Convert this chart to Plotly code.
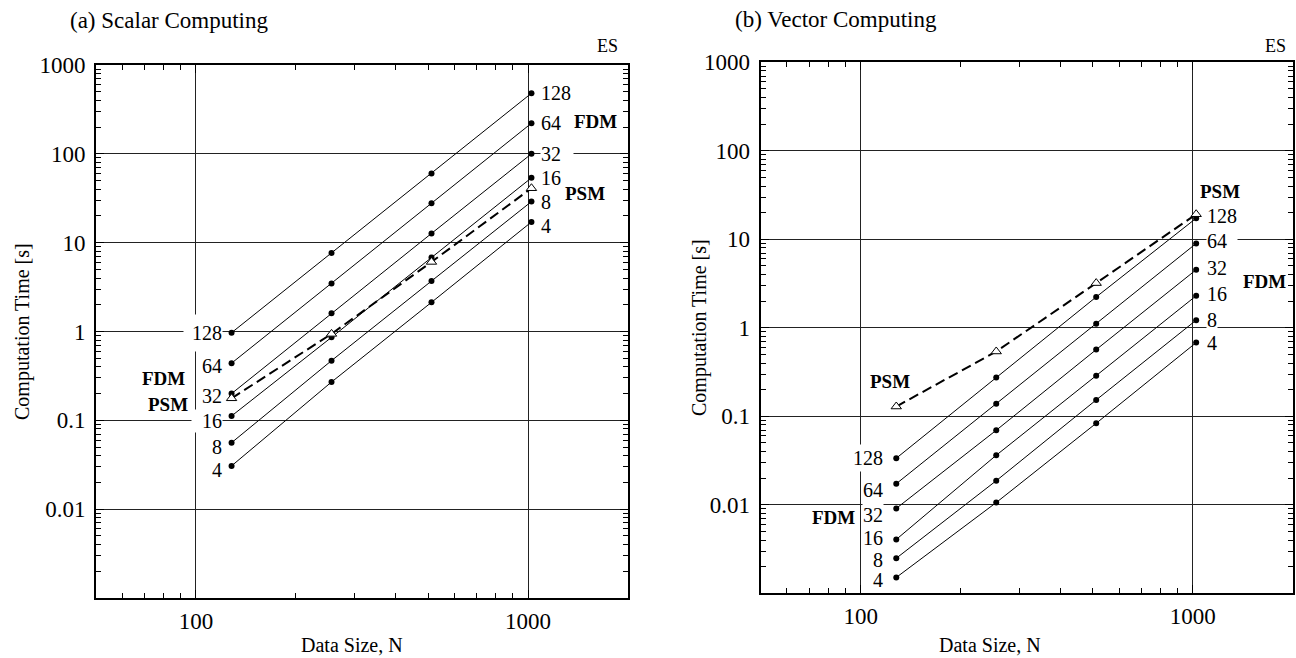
import math
import plotly.graph_objects as go

SERIF = "Liberation Serif"

# ---------------- data ----------------
data_size = [128, 256, 512, 1024]
procs = [128, 64, 32, 16, 8, 4]

# (a) Scalar computing, FDM, one list per processor count
scalar_fdm_128 = [0.97, 7.66, 60.0, 481.0]
scalar_fdm_64 = [0.44, 3.47, 27.7, 221.0]
scalar_fdm_32 = [0.20, 1.61, 12.7, 100.0]
scalar_fdm_16 = [0.112, 0.86, 6.8, 53.7]
scalar_fdm_8 = [0.056, 0.47, 3.7, 29.0]
scalar_fdm_4 = [0.0307, 0.27, 2.13, 17.1]
scalar_psm = [0.177, 0.94, 6.07, 41.0]

# (b) Vector computing
vector_fdm_128 = [0.0336, 0.275, 2.23, 17.3]
vector_fdm_64 = [0.0173, 0.139, 1.11, 8.97]
vector_fdm_32 = [0.0091, 0.0695, 0.567, 4.53]
vector_fdm_16 = [0.00406, 0.0363, 0.288, 2.3]
vector_fdm_8 = [0.00249, 0.0187, 0.153, 1.22]
vector_fdm_4 = [0.00151, 0.0106, 0.0834, 0.68]
vector_psm = [0.129, 0.54, 3.2, 19.2]

scalar_fdm = [scalar_fdm_128, scalar_fdm_64, scalar_fdm_32,
              scalar_fdm_16, scalar_fdm_8, scalar_fdm_4]
vector_fdm = [vector_fdm_128, vector_fdm_64, vector_fdm_32,
              vector_fdm_16, vector_fdm_8, vector_fdm_4]

panel_titles = ["(a) Scalar Computing", "(b) Vector Computing"]
x_title = "Data Size, N"
y_title = "Computation Time [s]"

# ---------------- label styling (pixel offsets / white box sizes) ----------------
# (yshift, box width, box height)
a_left_style = [(0, 38, 36), (-3, None, None), (-2, None, None), (-5, 30, None), (-4, None, None), (-4, None, None)]
a_right_style = [(0, None, None), (0, None, None), (0, 32, None), (0, None, None), (0, None, None), (-4, None, None)]
b_left_style = [(0, 38, 26), (-6, None, None), (-7, None, None), (1, None, None), (-2, None, None), (-3, None, None)]
b_right_style = [(2, None, 20), (2, 30, None), (2, None, None), (2, None, None), (0, None, None), (0, None, None)]

fig = go.Figure()


def add_panel(fdm, psm, xa, ya):
    for vals in fdm:
        fig.add_trace(go.Scatter(
            x=data_size, y=vals, mode="lines+markers", xaxis=xa, yaxis=ya,
            line=dict(color="black", width=1),
            marker=dict(size=6, color="black"), showlegend=False,
            hoverinfo="x+y"))
    fig.add_trace(go.Scatter(
        x=data_size, y=psm, mode="lines+markers", xaxis=xa, yaxis=ya,
        line=dict(color="black", width=2, dash="10px,5px"),
        marker=dict(size=9, symbol="triangle-up", color="white",
                    line=dict(color="black", width=1)),
        showlegend=False, hoverinfo="x+y"))


add_panel(scalar_fdm, scalar_psm, "x", "y")
add_panel(vector_fdm, vector_psm, "x2", "y2")

annotations = []


def num_label(xr, yr, x, y, text, side, xshift, yshift, width, height):
    d = dict(xref=xr, yref=yr, x=math.log10(x), y=math.log10(y), text=text,
             showarrow=False, xanchor="right" if side == "left" else "left",
             yanchor="middle", xshift=xshift, yshift=yshift,
             font=dict(family=SERIF, size=20, color="black"),
             bgcolor="white", borderpad=0,
             align="right" if side == "left" else "left")
    if width:
        d["width"] = width
    if height:
        d["height"] = height
    return d


def add_num_labels(fdm, xr, yr, lstyle, rstyle, lshift, rshift):
    for p, vals, ls, rs in zip(procs, fdm, lstyle, rstyle):
        annotations.append(num_label(xr, yr, data_size[0], vals[0], str(p), "left",
                                     lshift, ls[0], ls[1], ls[2]))
        annotations.append(num_label(xr, yr, data_size[-1], vals[-1], str(p), "right",
                                     rshift, rs[0], rs[1], rs[2]))


add_num_labels(scalar_fdm, "x", "y", a_left_style, a_right_style, -9, 9)
add_num_labels(vector_fdm, "x2", "y2", b_left_style, b_right_style, -12, 10)


def bold_label(xr, yr, x, y, text, anchor):
    return dict(xref=xr, yref=yr, x=math.log10(x), y=math.log10(y),
                text="<b>" + text + "</b>", showarrow=False, xanchor=anchor,
                yanchor="middle", font=dict(family=SERIF, size=19, color="black"))


annotations += [
    bold_label("x", "y", 1355, 229, "FDM", "left"),
    bold_label("x", "y", 1273, 35.6, "PSM", "left"),
    bold_label("x", "y", 94, 0.296, "FDM", "right"),
    bold_label("x", "y", 96, 0.151, "PSM", "right"),
    bold_label("x2", "y2", 1035, 34.4, "PSM", "left"),
    bold_label("x2", "y2", 1397, 3.34, "FDM", "left"),
    bold_label("x2", "y2", 97.3, 0.0072, "FDM", "right"),
    bold_label("x2", "y2", 122.5, 0.248, "PSM", "center"),
]

W, H = 1296, 658


def paper(px, py):
    return px / W, 1 - py / H


for title, (px, py) in zip(panel_titles, [(68, 21), (733, 19)]):
    x, y = paper(px, py)
    annotations.append(dict(xref="paper", yref="paper", x=x, y=y, text=title,
                            showarrow=False, xanchor="left", yanchor="middle",
                            font=dict(family=SERIF, size=23, color="black")))

for px in (620, 1288):
    x, y = paper(px, 46)
    annotations.append(dict(xref="paper", yref="paper", x=x, y=y, text="ES",
                            showarrow=False, xanchor="right", yanchor="middle",
                            font=dict(family=SERIF, size=18, color="black")))

for px in (352, 990):
    x, y = paper(px, 645)
    annotations.append(dict(xref="paper", yref="paper", x=x, y=y, text=x_title,
                            showarrow=False, xanchor="center", yanchor="middle",
                            font=dict(family=SERIF, size=20, color="black")))

for px, py in ((22, 332), (699, 328)):
    x, y = paper(px, py)
    annotations.append(dict(xref="paper", yref="paper", x=x, y=y, text=y_title,
                            showarrow=False, xanchor="center", yanchor="middle",
                            textangle=-90,
                            font=dict(family=SERIF, size=20, color="black")))

axis_common = dict(
    type="log", showline=True, linewidth=2, linecolor="black", mirror="allticks",
    ticks="inside", ticklen=8, tickwidth=1, tickcolor="black",
    showgrid=True, gridcolor="#222222", gridwidth=1, zeroline=False,
    dtick=1, exponentformat="none", automargin=False,
    tickfont=dict(family=SERIF, size=23, color="black"),
    minor=dict(ticks="inside", ticklen=5, tickwidth=1, tickcolor="black", showgrid=False),
    labelalias={"0.001": " "},
)
xrange = [math.log10(50), math.log10(2000)]
yrange = [-3, 3]

fig.update_layout(
    width=W, height=H, margin=dict(l=0, r=0, t=0, b=0, pad=0, autoexpand=False),
    plot_bgcolor="white", paper_bgcolor="white", showlegend=False,
    font=dict(family=SERIF, size=20, color="black"),
    xaxis=dict(axis_common, domain=[96 / W, 628 / W], range=xrange, anchor="y",
               ticklabelstandoff=1),
    yaxis=dict(axis_common, domain=[1 - 598 / H, 1 - 65 / H], range=yrange, anchor="x",
               ticklabelstandoff=4),
    xaxis2=dict(axis_common, domain=[760.7 / W, 1292.7 / W], range=xrange, anchor="y2",
                ticklabelstandoff=1),
    yaxis2=dict(axis_common, domain=[1 - 593.3 / H, 1 - 62.3 / H], range=yrange, anchor="x2",
                ticklabelstandoff=4),
    annotations=annotations,
)

fig.write_html("out.html")
